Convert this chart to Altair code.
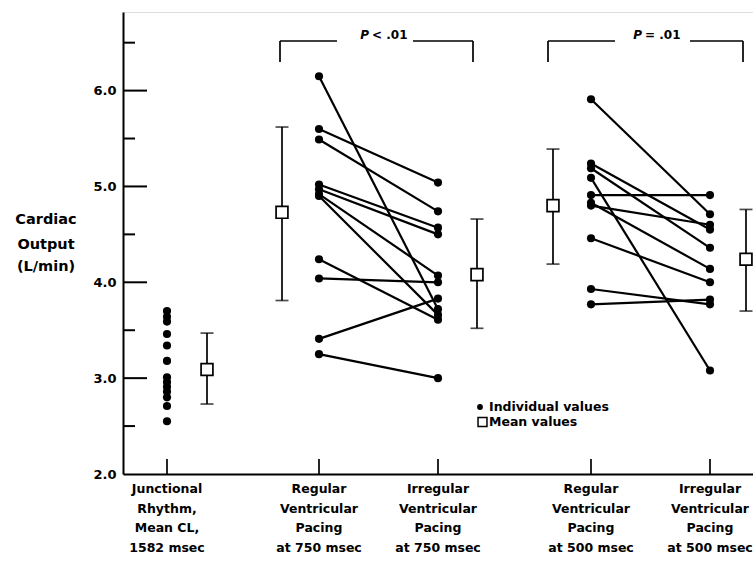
import altair as alt
import pandas as pd

# ---------------- data ----------------
category_lines = [
    ["Junctional", "Rhythm,", "Mean CL,", "1582 msec"],
    ["Regular", "Ventricular", "Pacing", "at 750 msec"],
    ["Irregular", "Ventricular", "Pacing", "at 750 msec"],
    ["Regular", "Ventricular", "Pacing", "at 500 msec"],
    ["Irregular", "Ventricular", "Pacing", "at 500 msec"],
]
junctional_values = [3.70, 3.64, 3.59, 3.46, 3.34, 3.18, 3.01, 2.96, 2.91, 2.86, 2.80, 2.71, 2.55]
regular_750 = [6.15, 5.60, 5.49, 5.02, 4.97, 4.92, 4.90, 4.24, 4.04, 3.41, 3.25]
irregular_750 = [3.72, 5.04, 4.74, 4.57, 4.50, 4.07, 3.66, 3.61, 4.00, 3.83, 3.00]
regular_500 = [5.91, 5.24, 5.19, 5.09, 4.91, 4.83, 4.80, 4.46, 3.93, 3.77]
irregular_500 = [4.71, 4.55, 4.36, 3.08, 4.91, 4.14, 4.60, 4.00, 3.77, 3.82]
mean_values = [3.09, 4.73, 4.08, 4.80, 4.24]
mean_low = [2.73, 3.81, 3.52, 4.19, 3.70]
mean_high = [3.47, 5.62, 4.66, 5.39, 4.76]
p_labels = ["< .01", "= .01"]
y_title_lines = ["Cardiac", "Output", "(L/min)"]
legend_labels = ["Individual values", "Mean values"]
y_major = [2.0, 3.0, 4.0, 5.0, 6.0]
y_minor = [2.5, 3.5, 4.5, 5.5, 6.5]

# ---------------- layout (horizontal slots along the axis) ----------------
W, H = 630, 462
cat_pos = [44, 196, 315, 468, 587]
mean_pos = [84, 159, 354, 430, 623]
FONT = "DejaVu Sans"

xs = alt.Scale(domain=[0, W], nice=False, zero=False)
ys = alt.Scale(domain=[2.0, 6.82], nice=False, zero=False)

# individual points
pts = []
for v in junctional_values:
    pts.append({"x": cat_pos[0], "y": v})
for arr, ci in [(regular_750, 1), (irregular_750, 2), (regular_500, 3), (irregular_500, 4)]:
    for v in arr:
        pts.append({"x": cat_pos[ci], "y": v})
pts_df = pd.DataFrame(pts)

pairs = []
for a, b in zip(regular_750, irregular_750):
    pairs.append({"x1": cat_pos[1], "x2": cat_pos[2], "y1": a, "y2": b})
for a, b in zip(regular_500, irregular_500):
    pairs.append({"x1": cat_pos[3], "x2": cat_pos[4], "y1": a, "y2": b})
pairs_df = pd.DataFrame(pairs)

means_df = pd.DataFrame({"x": mean_pos, "m": mean_values, "lo": mean_low, "hi": mean_high})

base_axis_x = alt.Axis(labels=False, ticks=False, title=None, grid=False,
                       domainColor="black", domainWidth=2)
base_axis_y = alt.Axis(values=y_major, format=".1f", tickSize=0, labelPadding=7,
                       title=None, grid=False, domainColor="black", domainWidth=2,
                       labelFont=FONT, labelFontSize=13, labelFontWeight="bold",
                       labelColor="black")

lines = alt.Chart(pairs_df).mark_rule(color="black", strokeWidth=2.2).encode(
    x=alt.X("x1:Q", scale=xs, axis=base_axis_x),
    x2="x2:Q",
    y=alt.Y("y1:Q", scale=ys, axis=base_axis_y),
    y2="y2:Q",
)

dots = alt.Chart(pts_df).mark_circle(color="black", opacity=1, size=66).encode(
    x=alt.X("x:Q", scale=xs), y=alt.Y("y:Q", scale=ys)
)

err = alt.Chart(means_df).mark_rule(color="black", strokeWidth=1.7).encode(
    x=alt.X("x:Q", scale=xs), y=alt.Y("lo:Q", scale=ys), y2="hi:Q"
)
cap_lo = alt.Chart(means_df).mark_tick(color="black", orient="horizontal", size=13, thickness=1.7).encode(
    x=alt.X("x:Q", scale=xs), y=alt.Y("lo:Q", scale=ys)
)
cap_hi = alt.Chart(means_df).mark_tick(color="black", orient="horizontal", size=13, thickness=1.7).encode(
    x=alt.X("x:Q", scale=xs), y=alt.Y("hi:Q", scale=ys)
)
squares = alt.Chart(means_df).mark_square(color="black", fill="white", filled=True, opacity=1,
                                          stroke="black", strokeWidth=1.7, size=140).encode(
    x=alt.X("x:Q", scale=xs), y=alt.Y("m:Q", scale=ys)
)

# inward y ticks
ytick_major = alt.Chart(pd.DataFrame({"v": y_major[1:]})).mark_rule(color="black", strokeWidth=2).encode(
    y=alt.Y("v:Q", scale=ys), x=alt.value(0), x2=alt.value(24)
)
ytick_minor = alt.Chart(pd.DataFrame({"v": y_minor})).mark_rule(color="black", strokeWidth=2).encode(
    y=alt.Y("v:Q", scale=ys), x=alt.value(0), x2=alt.value(12)
)
# upward x ticks
xtick = alt.Chart(pd.DataFrame({"x": cat_pos})).mark_rule(color="black", strokeWidth=1.7).encode(
    x=alt.X("x:Q", scale=xs), y=alt.value(H), y2=alt.value(H - 15)
)

# category labels
cat_rows = []
for ci, lines_ in enumerate(category_lines):
    for li, t in enumerate(lines_):
        cat_rows.append({"x": cat_pos[ci], "t": t, "dy": H + 15 + li * 19.5})
cat_df = pd.DataFrame(cat_rows)
cat_text = alt.Chart(cat_df).mark_text(font=FONT, fontSize=12.5, fontWeight="bold", color="black",
                                       baseline="middle", align="center").encode(
    x=alt.X("x:Q", scale=xs), y=alt.Y("dy:Q", scale=None), text="t:N"
)

# y title
ytitle_df = pd.DataFrame({"t": y_title_lines, "dy": [208, 233, 255]})
ytitle = alt.Chart(ytitle_df).mark_text(font=FONT, fontSize=14.5, color="black", fontWeight="bold",
                                        baseline="middle", align="center").encode(
    x=alt.value(-77), y=alt.Y("dy:Q", scale=None), text="t:N"
)

# significance brackets
br_h = pd.DataFrame({"a": [157, 290, 425, 567], "b": [214, 350, 492, 620]})
br_top = alt.Chart(br_h).mark_rule(color="black", strokeWidth=1.7).encode(
    x=alt.X("a:Q", scale=xs), x2="b:Q", y=alt.value(29)
)
br_v = alt.Chart(pd.DataFrame({"a": [157, 350, 425, 620]})).mark_rule(color="black", strokeWidth=1.7).encode(
    x=alt.X("a:Q", scale=xs), y=alt.value(29), y2=alt.value(50)
)
p_df = pd.DataFrame({"x": [257, 530], "t": p_labels})
p_italic = alt.Chart(p_df).mark_text(font=FONT, fontSize=12, fontStyle="italic", fontWeight="bold",
                                     color="black", align="right", baseline="middle", dx=-11).encode(
    x=alt.X("x:Q", scale=xs), y=alt.value(23), text=alt.value("P")
)
p_rest = alt.Chart(p_df).mark_text(font=FONT, fontSize=12, fontWeight="bold", color="black",
                                   align="left", baseline="middle", dx=-8).encode(
    x=alt.X("x:Q", scale=xs), y=alt.value(23), text="t:N"
)

# legend
leg_dot = alt.Chart(pd.DataFrame({"a": [0]})).mark_circle(color="black", opacity=1, size=34).encode(
    x=alt.value(357), y=alt.value(395)
)
leg_sq = alt.Chart(pd.DataFrame({"a": [0]})).mark_square(fill="white", filled=True, stroke="black",
                                                         strokeWidth=1.5, size=80, opacity=1).encode(
    x=alt.value(359.5), y=alt.value(410)
)
leg_text = alt.Chart(pd.DataFrame({"t": legend_labels, "dy": [395, 410]})).mark_text(
    font=FONT, fontSize=12.5, fontWeight="bold", color="black", align="left", baseline="middle"
).encode(x=alt.value(366), y=alt.Y("dy:Q", scale=None), text="t:N")

chart = alt.layer(
    lines, dots, err, cap_lo, cap_hi, squares, ytick_major, ytick_minor, xtick,
    cat_text, ytitle, br_top, br_v, p_italic, p_rest, leg_dot, leg_sq, leg_text,
).properties(
    width=W, height=H,
    autosize=alt.AutoSizeParams(type="none"),
    padding={"left": 123, "top": 12, "right": 0, "bottom": 88},
).configure_view(stroke=None).configure(background="white")

chart.save("out.html", embed_options={"renderer": "svg", "actions": False})
